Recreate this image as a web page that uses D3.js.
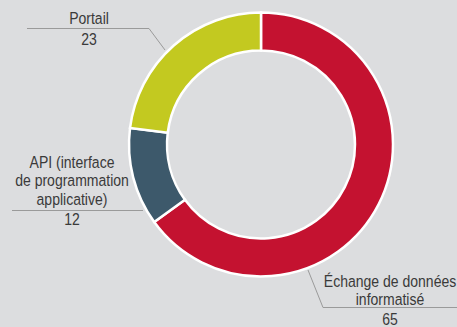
<!DOCTYPE html>
<html><head><meta charset="utf-8">
<script src="https://cdn.jsdelivr.net/npm/d3@7"></script>
<style>
body{margin:0;background:#dcdddf;}
svg{display:block;}
text{font-family:"Liberation Sans",Arial,sans-serif;fill:#3a3a3a;font-size:16.5px;}
</style></head>
<body>
<svg id="chart" width="457" height="327"></svg>
<script>
// Distribution by channel
const categories = ["Échange de données informatisé", "API (interface de programmation applicative)", "Portail"];
const values = [65, 12, 23];
const colors = ["#c41230", "#3d596b", "#c3c920"];
// Label lines as they are broken on the chart
const labelLines = [["Échange de données", "informatisé"], ["API (interface", "de programmation", "applicative)"], ["Portail"]];

const svg = d3.select("#chart");
const cx = 261, cy = 144.5, rOuter = 132, rInner = 94;

const pie = d3.pie().sort(null).value(d => d.value);
const arc = d3.arc().innerRadius(rInner).outerRadius(rOuter);
const data = categories.map((c, i) => ({name: c, value: values[i], color: colors[i]}));
const arcs = pie(data);

const g = svg.append("g").attr("transform", `translate(${cx},${cy})`);
g.selectAll("path").data(arcs).join("path")
  .attr("d", arc)
  .attr("fill", d => d.data.color)
  .attr("stroke", "#fff")
  .attr("stroke-width", 2.5);

const lineColor = "#9a9a9a";
const sx = 0.85; // condensed lettering

function txt(s, x, y) {
  svg.append("text")
    .attr("transform", `translate(${x},${y}) scale(${sx},1)`)
    .attr("text-anchor", "middle")
    .text(s);
}
function leader(pts) {
  svg.append("path").attr("d", d3.line()(pts)).attr("fill", "none")
    .attr("stroke", lineColor).attr("stroke-width", 1);
}

// Portail
labelLines[2].forEach((s, i) => txt(s, 89, 24 + i * 18.5));
txt(values[2], 89, 44.5);
leader([[27, 28.5], [149, 28.5], [165, 50]]);

// API
labelLines[1].forEach((s, i) => txt(s, 72, 167.5 + i * 18.7));
txt(values[1], 72, 225);
leader([[12, 210.5], [143, 210.5]]);

// Échange de données informatisé
labelLines[0].forEach((s, i) => txt(s, 390, 287 + i * 17.5));
txt(values[0], 390, 325);
leader([[308, 270], [323, 307.5], [457, 307.5]]);
</script>
</body></html>
